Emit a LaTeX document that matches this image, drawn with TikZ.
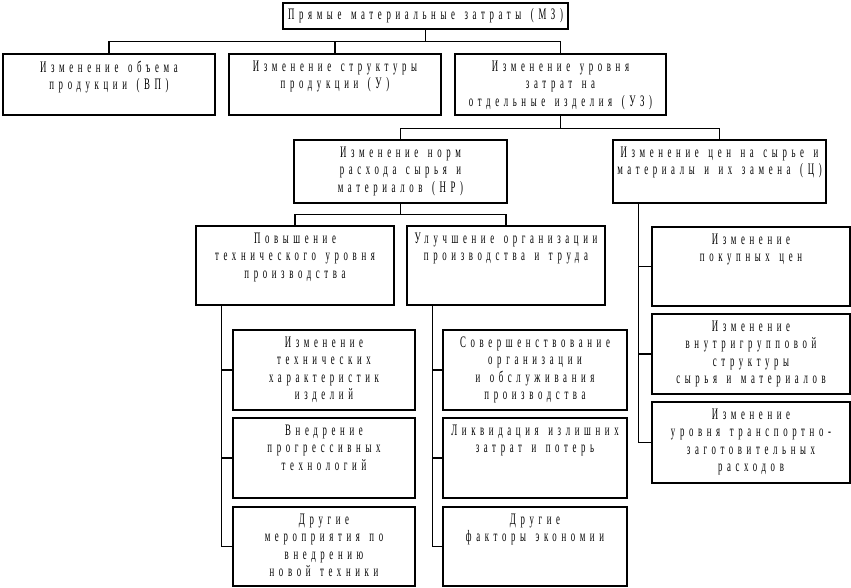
\documentclass[tikz,border=0pt]{standalone}
\usepackage{fontspec}
\setmainfont{Liberation Serif}[FakeStretch=0.55,LetterSpace=29,WordSpace=1.4]
\usepackage{tikz}
\usetikzlibrary{positioning}
\newcommand{\stemshift}{26pt}
\tikzset{
  x=1pt,y=-1pt,
  font=\fontsize{16}{17.5}\selectfont,
  rect/.style={draw,line width=1.1pt,shape=rectangle,inner sep=0},
  txt/.style={anchor=north,align=center,inner sep=0pt},
  line/.style={draw,line width=1.1pt},
}
\begin{document}
\begin{tikzpicture}
    \useasboundingbox (0,0) rectangle (851,588);
    % boxes
    \node (mz) [rect,minimum width=285,minimum height=26] at (425.5,16) {};
    \node (vp) [rect,minimum width=212,minimum height=61] at (109,84.5) {};
    \node (u)  [rect,minimum width=212,minimum height=61] at (335,84.5) {};
    \node (uz) [rect,minimum width=211,minimum height=61] at (560.5,84.5) {};
    \node (nr) [rect,minimum width=213,minimum height=63] at (400.5,171.5) {};
    \node (c)  [rect,minimum width=213,minimum height=63] at (719.5,171.5) {};
    \node (pov) [rect,minimum width=198,minimum height=79] at (295,265.5) {};
    \node (ul)  [rect,minimum width=198,minimum height=79] at (506,265.5) {};
    \node (k1) [rect,minimum width=182,minimum height=80] at (324,370) {};
    \node (k2) [rect,minimum width=182,minimum height=80] at (324,458) {};
    \node (k3) [rect,minimum width=182,minimum height=79] at (324,546.5) {};
    \node (m1) [rect,minimum width=184,minimum height=80] at (535,370) {};
    \node (m2) [rect,minimum width=184,minimum height=80] at (535,458) {};
    \node (m3) [rect,minimum width=184,minimum height=79] at (535,546.5) {};
    \node (r1) [rect,minimum width=198,minimum height=79] at (751,266.5) {};
    \node (r2) [rect,minimum width=198,minimum height=80] at (751,354) {};
    \node (r3) [rect,minimum width=198,minimum height=81] at (751,442.5) {};

    % texts
    \node (mzT) [txt] at ([yshift=-6pt]mz.north) {Прямые материальные затраты (МЗ)};
    \node (vpT) [txt] at ([yshift=-7pt]vp.north) {Изменение объема\\продукции (ВП)};
    \node (uT)  [txt] at ([yshift=-7pt]u.north) {Изменение структуры\\продукции (У)};
    \node (uzT) [txt] at ([yshift=-7pt]uz.north) {Изменение уровня\\затрат на\\отдельные изделия (УЗ)};
    \node (nrT) [txt] at ([yshift=-7pt]nr.north) {Изменение норм\\расхода сырья и\\материалов (НР)};
    \node (cT)  [txt] at ([yshift=-7pt]c.north) {Изменение цен на сырье и\\материалы и их замена (Ц)};
    \node (povT) [txt] at ([yshift=-7pt]pov.north) {Повышение\\технического уровня\\производства};
    \node (ulT)  [txt] at ([yshift=-7pt]ul.north) {Улучшение организации\\производства и труда};
    \node (k1T) [txt] at ([yshift=-7pt]k1.north) {Изменение\\технических\\характеристик\\изделий};
    \node (k2T) [txt] at ([yshift=-7pt]k2.north) {Внедрение\\прогрессивных\\технологий};
    \node (k3T) [txt] at ([yshift=-7pt]k3.north) {Другие\\мероприятия по\\внедрению\\новой техники};
    \node (m1T) [txt] at ([yshift=-7pt]m1.north) {Совершенствование\\организации\\и обслуживания\\производства};
    \node (m2T) [txt] at ([yshift=-7pt]m2.north) {Ликвидация излишних\\затрат и потерь};
    \node (m3T) [txt] at ([yshift=-7pt]m3.north) {Другие\\факторы экономии};
    \node (r1T) [txt] at ([yshift=-7pt]r1.north) {Изменение\\покупных цен};
    \node (r2T) [txt] at ([yshift=-7pt]r2.north) {Изменение\\внутригрупповой\\структуры\\сырья и материалов};
    \node (r3T) [txt] at ([yshift=-7pt]r3.north) {Изменение\\уровня транспортно-\\заготовительных\\расходов};

    % tree connectors
    \path [line] (mz.south) -- ++(0,12) coordinate (mzj);
    \path [line] (vp.north) |- (mzj) -| (uz.north);
    \path [line] (u.north) -- (u.north |- mzj);
    \path [line] (uz.south) -- ++(0,13) coordinate (uzj);
    \path [line] (nr.north) |- (uzj) -| (c.north);
    \path [line] (nr.south) -- ++(0,11) coordinate (nrj);
    \path [line] (pov.north) |- (nrj) -| (ul.north);

    % side connectors
    \foreach \p/\a/\b/\d in {pov/k1/k3/k2,ul/m1/m3/m2,c/r1/r3/r2} {
      \coordinate (\p stem) at ([xshift=\stemshift]\p.south west);
      \path [line] (\p stem) |- (\b.west);
      \path [line] (\a.west) -- (\a.west -| \p stem);
      \path [line] (\d.west) -- (\d.west -| \p stem);
    }
\end{tikzpicture}
\end{document}
